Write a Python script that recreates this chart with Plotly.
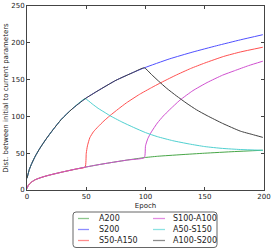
import plotly.graph_objects as go

# ---- data ----
a200_x = [0, 1, 2, 4, 7, 11, 16, 22, 30, 42, 49, 60, 70, 85, 99, 110, 130, 150, 175, 199]
a200_y = [2, 6, 8, 11, 14, 16.5, 19, 21.5, 24.5, 28.7, 31, 34.3, 37, 40.8, 44, 45.8, 48, 50, 52.2, 54]

s200_x = [0, 2, 4, 7, 11, 16, 22, 29, 38, 49, 60, 75, 90, 99, 120, 140, 160, 180, 199]
s200_y = [16, 28, 36, 46, 57, 69, 82, 96, 110, 124, 135, 149, 160, 166, 178, 187.5, 196, 204, 211]

# branches after the switch epoch (each run shares the earlier part of A200 / S200)
s50a150_x = [50, 51, 53, 56, 60, 65, 70, 77, 84, 95, 105, 112, 125, 138, 150, 166, 180, 199]
s50a150_y = [50, 60, 71, 79, 86, 94, 101, 110, 118.5, 130, 139, 145, 155.5, 165, 172.5, 181.5, 187.5, 194]

s100a100_x = [100, 102, 105, 110, 115, 120, 129, 140, 152, 165, 175, 187, 199]
s100a100_y = [60, 70, 79, 91, 100.5, 108.5, 122, 135, 146, 156, 162, 169, 175]

a50s150_x = [55, 60, 65, 70, 80, 90, 100, 110, 123, 137, 150, 165, 180, 199]
a50s150_y = [117, 111, 106, 101, 92.5, 85, 78, 72.5, 67, 62.5, 59, 56.5, 55, 54]

a100s200_x = [105, 111, 118, 126, 135, 143, 152, 165, 180, 190, 199]
a100s200_y = [157, 148, 138, 128, 117.5, 109, 101, 90.5, 80, 75.5, 71.5]

names = ["A200", "S200", "S50-A150", "S100-A100", "A50-S150", "A100-S200"]
colors = ["#47a647", "#5050ff", "#ff5050", "#d04fd0", "#4fd0d0", "#404040"]
legend_colors = ["rgba(0,128,0,0.45)", "rgba(0,0,255,0.45)", "rgba(255,0,0,0.45)",
                 "rgba(191,0,191,0.45)", "rgba(0,191,191,0.45)", "rgba(0,0,0,0.45)"]


def prefix(bx, by, last):
    k = [i for i, v in enumerate(bx) if v <= last]
    return [bx[i] for i in k], [by[i] for i in k]


lo49_x, lo49_y = prefix(a200_x, a200_y, 49)
lo99_x, lo99_y = prefix(a200_x, a200_y, 99)
up49_x, up49_y = prefix(s200_x, s200_y, 49)
up99_x, up99_y = prefix(s200_x, s200_y, 99)

xs = [a200_x, s200_x, lo49_x + s50a150_x, lo99_x + s100a100_x,
      up49_x + a50s150_x, up99_x + a100s200_x]
ys = [a200_y, s200_y, lo49_y + s50a150_y, lo99_y + s100a100_y,
      up49_y + a50s150_y, up99_y + a100s200_y]

xticks = [0, 50, 100, 150, 200]
yticks = [0, 50, 100, 150, 200, 250]

FONT = "DejaVu Sans"

# plot area in pixels
L, R, T, B = 27, 264, 6, 190
W, H = 274, 252


def px(xp):
    return (xp - L) / (R - L)


def py(yp):
    return (B - yp) / (B - T)


fig = go.Figure()
for n, c, x, y in zip(names, colors, xs, ys):
    fig.add_trace(go.Scatter(x=x, y=y, mode="lines", name=n, showlegend=False,
                             line=dict(color=c, width=1, shape="spline", smoothing=0.5)))

axis_common = dict(showgrid=False, zeroline=False, showline=True, linecolor="#444",
                   linewidth=1, mirror="ticks", ticks="inside", ticklen=3,
                   tickcolor="#444", tickfont=dict(size=7, color="#222", family=FONT))

# manual legend (two columns, three rows)
shapes = []
annotations = []
x0, x1, y0, y1 = px(73), px(217), py(247.5), py(212)
rx, ry = 3 / (R - L), 3 / (B - T)
path = (f"M{x0+rx},{y1} L{x1-rx},{y1} Q{x1},{y1} {x1},{y1-ry} "
        f"L{x1},{y0+ry} Q{x1},{y0} {x1-rx},{y0} L{x0+rx},{y0} "
        f"Q{x0},{y0} {x0},{y0+ry} L{x0},{y1-ry} Q{x0},{y1} {x0+rx},{y1} Z")
shapes.append(dict(type="path", xref="paper", yref="paper", path=path,
                   line=dict(color="#666", width=1), fillcolor="white", layer="above"))
rows_y = [218.5, 229.5, 240.5]
cols = [(78, 89, 97), (153, 165, 171)]
for i, (n, c) in enumerate(zip(names, legend_colors)):
    col, row = divmod(i, 3)
    lx0, lx1, tx = cols[col]
    yy = py(rows_y[row])
    shapes.append(dict(type="line", xref="paper", yref="paper",
                       x0=px(lx0), x1=px(lx1), y0=yy, y1=yy,
                       line=dict(color=c, width=1.3), layer="above"))
    annotations.append(dict(text=n, xref="paper", yref="paper", x=px(tx), y=yy,
                            xanchor="left", yanchor="middle", showarrow=False,
                            font=dict(size=8, family=FONT, color="#222")))

fig.update_layout(
    width=W, height=H,
    margin=dict(l=L, r=W - R, t=T, b=H - B, autoexpand=False),
    paper_bgcolor="white", plot_bgcolor="white",
    font=dict(family=FONT, size=7, color="#222"),
    showlegend=False,
    xaxis=dict(range=[0, 200], tickvals=xticks, ticktext=[str(v) for v in xticks],
               title=dict(text="Epoch", font=dict(size=7, family=FONT), standoff=2),
               **axis_common),
    yaxis=dict(range=[0, 250], tickvals=yticks, ticktext=[str(v) for v in yticks],
               title=dict(text="Dist. between initial to current parameters",
                          font=dict(size=7, family=FONT), standoff=1),
               **axis_common),
    shapes=shapes,
    annotations=annotations,
)

fig.write_html("out.html", config={"displayModeBar": False},
               post_script="document.body.style.margin='0';document.body.style.overflow='hidden';")
